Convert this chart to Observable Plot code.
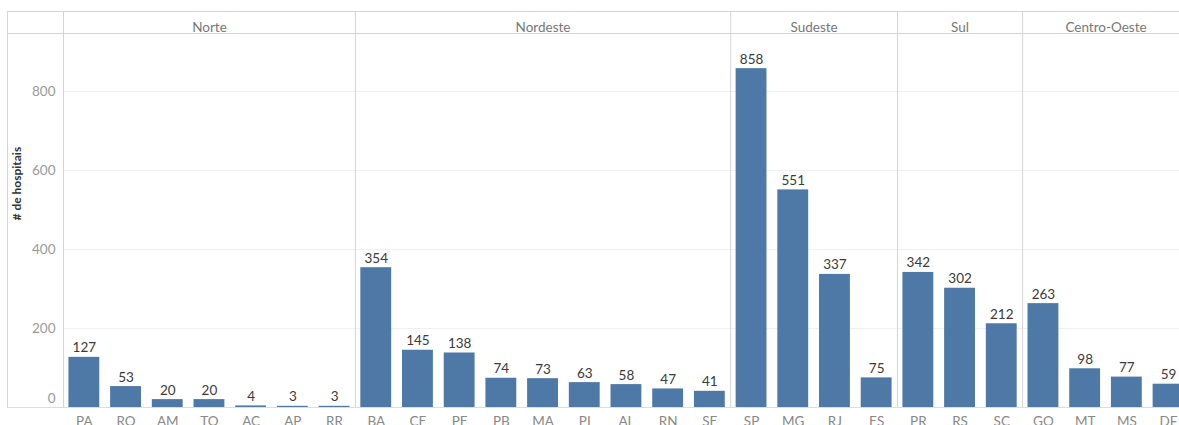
<!DOCTYPE html>
<html>
<head>
<meta charset="utf-8">
<script src="https://cdn.jsdelivr.net/npm/d3@7"></script>
<script src="https://cdn.jsdelivr.net/npm/@observablehq/plot@0.6"></script>
<style>
  html, body { margin: 0; padding: 0; background: #fff; overflow: hidden; }
  #chart svg { display: block; max-width: none !important; }
</style>
</head>
<body>
<div id="chart"></div>
<script>
// Hospitals per state, grouped by Brazilian region
const regions = ["Norte", "Nordeste", "Sudeste", "Sul", "Centro-Oeste"];
const regionSizes = [7, 9, 4, 3, 4];
const states = [
  "PA", "RO", "AM", "TO", "AC", "AP", "RR",
  "BA", "CE", "PE", "PB", "MA", "PI", "AL", "RN", "SE",
  "SP", "MG", "RJ", "ES",
  "PR", "RS", "SC",
  "GO", "MT", "MS", "DF"
];
const hospitals = [
  127, 53, 20, 20, 4, 3, 3,
  354, 145, 138, 74, 73, 63, 58, 47, 41,
  858, 551, 337, 75,
  342, 302, 212,
  263, 98, 77, 59
];
const yTicks = [0, 200, 400, 600, 800];
const yTitle = "# de hospitais";

const rows = states.map((s, i) => ({state: s, value: hospitals[i]}));

// first state of each region, used to place panel dividers and headers
let offset = 0;
const groups = regions.map((r, i) => {
  const g = {region: r, first: states[offset], size: regionSizes[i]};
  offset += regionSizes[i];
  return g;
});

const width = 1200, height = 425;
const marginLeft = 63, marginRight = 11.1, marginTop = 33, marginBottom = 18;
const yMax = 947;
const step = (width - marginLeft - marginRight) / states.length;
const axisLeft = 56;   // distance from the plot area to the outer border
const headerH = 22;    // height of the header row
const lineColor = "#d4d4d4";
const font = "Lato, 'Open Sans', sans-serif";
const fs = 13.5;

const marks = [
  // light horizontal gridlines
  Plot.ruleY(yTicks.filter(d => d > 0), {stroke: "#f0f0f0"}),
  // bars
  Plot.barY(rows, {x: "state", y: "value", fill: "#4e79a7"}),
  // value labels
  Plot.text(rows, {
    x: "state", y: "value", text: d => String(d.value),
    lineAnchor: "bottom", dy: -5, fill: "#3a3a3a", fontSize: fs
  }),
  // header row: outer top border and the line beneath the headers
  Plot.ruleY([yMax], {stroke: lineColor, insetLeft: -axisLeft, insetRight: -20}),
  Plot.ruleY([yMax], {stroke: lineColor, insetLeft: -axisLeft, insetRight: -20, dy: -headerH}),
  // panel dividers (through the header row)
  Plot.ruleX(groups, {x: "first", dx: -step / 2, stroke: lineColor, insetTop: -headerH}),
  // left outer border
  Plot.ruleX([groups[0]], {x: "first", dx: -step / 2 - axisLeft, stroke: lineColor, insetTop: -headerH}),
  // baseline
  Plot.ruleY([0], {stroke: "#e2dcd6", insetLeft: -axisLeft, insetRight: -20}),
  // y tick labels
  Plot.text(yTicks.filter(d => d > 0), {
    y: d => d, frameAnchor: "left", dx: -8, textAnchor: "end",
    fill: "#999", fontSize: fs
  }),
  Plot.text([0], {
    y: d => d, frameAnchor: "left", dx: -8, dy: -9, textAnchor: "end",
    fill: "#999", fontSize: fs
  }),
  // y axis title
  Plot.text([yTitle], {
    frameAnchor: "left", dx: -46, rotate: -90, text: d => d,
    fill: "#333", fontSize: 12, fontWeight: "bold"
  }),
  // x tick labels (the row runs past the bottom edge)
  Plot.text(states, {
    x: d => d, frameAnchor: "bottom", dy: 18, fill: "#888", fontSize: fs
  }),
  // region headers
  ...groups.map(g => Plot.text([g], {
    x: "first", dx: (g.size - 1) * step / 2, frameAnchor: "top", dy: -11,
    text: "region", fill: "#777", fontSize: fs
  }))
];

const chart = Plot.plot({
  width, height, marginLeft, marginRight, marginTop, marginBottom,
  style: {fontFamily: font, background: "#fff", maxWidth: "none"},
  x: {domain: states, paddingInner: 0.26, paddingOuter: 0.13, round: false, axis: null},
  y: {domain: [0, yMax], axis: null},
  marks
});

document.getElementById("chart").append(chart);
</script>
</body>
</html>
